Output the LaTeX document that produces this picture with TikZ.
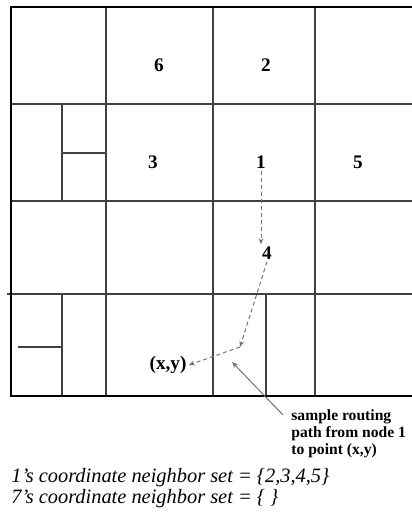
\documentclass[tikz,border=0pt]{standalone}
\usepackage{fontspec}
\setmainfont{Liberation Serif}
\usetikzlibrary{positioning,arrows.meta}

\begin{document}
\begin{tikzpicture}[
    x=0.5pt, y=-0.5pt,
    >={Stealth[length=3pt, width=2.4pt]},
    cell line/.style={draw=black!75, line width=0.55pt},
    frame line/.style={draw=black, line width=1.1pt},
    cell label/.style={font=\bfseries\fontsize{9.6}{11}\selectfont, inner sep=1pt},
    route/.style={->, dashed, dash pattern=on 2pt off 1.5pt, draw=black!55, line width=0.5pt},
    pointer/.style={->, draw=black!55, line width=0.5pt},
    note text/.style={font=\bfseries\fontsize{7.8}{8.6}\selectfont, align=left, inner sep=0pt},
    set text/.style={font=\itshape\fontsize{10.2}{7.2}\selectfont, align=left, inner sep=0pt}
]
    \useasboundingbox (0,0) rectangle (412,515);

    % grid of zones
    \foreach \x in {106,213,315}
      \draw[cell line] (\x,7) -- (\x,396);
    \foreach \y in {104,201}
      \draw[cell line] (11,\y) -- (412,\y);
    \draw[cell line] (7,294) -- (412,294);

    % split zones
    \draw[cell line] (62,104) -- (62,201);
    \draw[cell line] (62,153) -- (106,153);
    \draw[cell line] (62,294) -- (62,396);
    \draw[cell line] (18,347) -- (62,347);
    \draw[cell line] (266,294) -- (266,396);

    \draw[frame line] (412,7) -- (11,7) -- (11,396) -- (412,396);

    % node ids
    \node[cell label] (n6) at (159,65) {6};
    \node[cell label] (n2) at (266,65) {2};
    \node[cell label] (n3) at (153,162) {3};
    \node[cell label] (n1) at (261,162) {1};
    \node[cell label] (n5) at (358,162) {5};
    \node[cell label] (n4) at (267,253) {4};
    \node[cell label] (xy) at (168,365) {(x,y)};
    \coordinate (hop) at (240,347);

    % routing path
    \draw[route] (n1.south) -- (n1.south |- n4.north);
    \draw[route] (n4.south) -- (hop);
    \draw[route] (hop) -- (xy.east);

    \node[note text, anchor=north west] (note) at (291,409) {sample routing\\path from node 1\\to point (x,y)};
    \coordinate (tip) at (232,362);
    \draw[pointer] (283,415) -- (tip);

    \node[set text, anchor=north west] (sets) at (11,468) {1's coordinate neighbor set = \{2,3,4,5\}\\7's coordinate neighbor set = \{ \}};
\end{tikzpicture}
\end{document}
